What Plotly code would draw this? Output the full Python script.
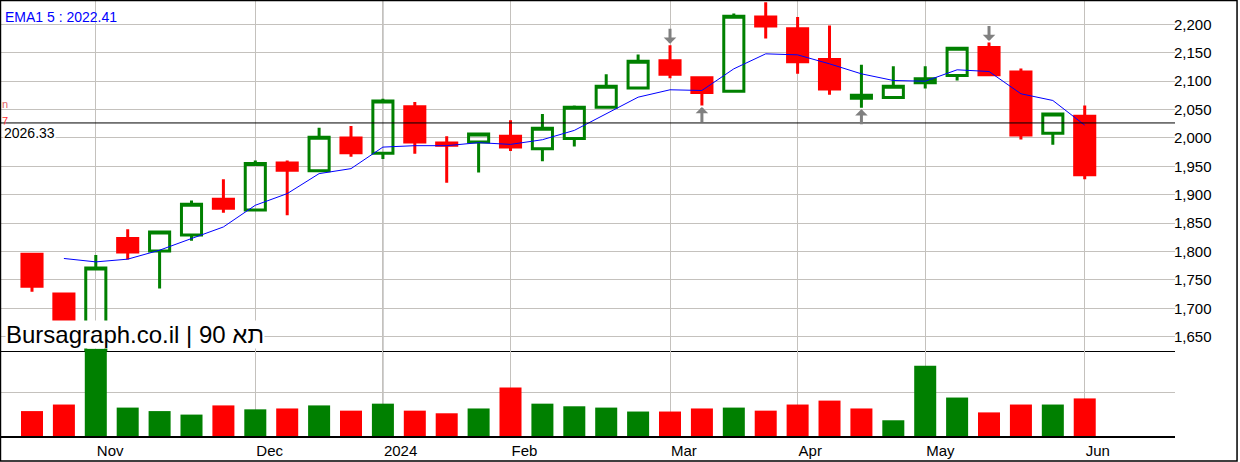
import plotly.graph_objects as go

# ---------------- data ----------------
week_end = ["2023-10-19", "2023-10-26", "2023-11-02", "2023-11-09", "2023-11-16", "2023-11-23",
            "2023-11-30", "2023-12-07", "2023-12-14", "2023-12-21", "2023-12-28", "2024-01-04",
            "2024-01-11", "2024-01-18", "2024-01-25", "2024-02-01", "2024-02-08", "2024-02-15",
            "2024-02-22", "2024-02-29", "2024-03-07", "2024-03-14", "2024-03-21", "2024-03-28",
            "2024-04-04", "2024-04-11", "2024-04-18", "2024-04-25", "2024-05-02", "2024-05-09",
            "2024-05-16", "2024-05-23", "2024-05-30", "2024-06-06"]

open_ = [1795, 1725, 1626, 1823, 1801, 1829, 1892, 1873, 1956, 1942, 2000, 1973,
         2055, 1991, 1993, 2003, 1981, 1999, 2054, 2088, 2136, 2106, 2082, 2213,
         2192, 2138, 2070, 2071, 2097, 2110, 2159, 2116, 2008, 2038]
high = [1796, 1726, 1794, 1839, 1837, 1890, 1927, 1960, 1960, 2018, 2021, 2069,
        2063, 2003, 2008, 2031, 2042, 2057, 2112, 2147, 2163, 2107, 2219, 2239,
        2213, 2198, 2129, 2126, 2126, 2159, 2168, 2122, 2042, 2057]
low = [1729, 1672, 1624, 1786, 1735, 1819, 1868, 1872, 1864, 1941, 1967, 1963,
       1972, 1921, 1939, 1977, 1959, 1985, 2053, 2087, 2105, 2057, 2081, 2175,
       2113, 2076, 2053, 2070, 2087, 2101, 2110, 1997, 1988, 1927]
close = [1739, 1679, 1771, 1799, 1834.5, 1883, 1876, 1955, 1943, 2001, 1974, 2065,
         1993, 1987, 2007, 1984, 2017, 2054, 2091, 2135, 2112, 2080, 2214, 2197,
         2134, 2086, 2075, 2091, 2104, 2158, 2111, 2005, 2042, 1935]

# EMA(5) values as drawn, starting with the 2nd week
ema5 = [1787.7, 1781.7, 1786.5, 1802.3, 1822.8, 1843.2, 1881.4, 1901.9, 1937.1, 1945.9,
        1983.8, 1986.3, 1986.3, 1991.6, 1988.6, 1996.8, 2013.2, 2042.5, 2071.7, 2084.7,
        2083.5, 2121.6, 2148.0, 2146.2, 2130.4, 2112.8, 2101.1, 2099.8, 2119.9, 2116.9,
        2077.7, 2065.9, 2022.41]

# volume (relative units, gridline at 100)
volume = [57, 72, 199, 65, 57, 49, 70, 61, 63, 70, 58, 74, 58, 52, 63, 111, 74, 68,
          65, 56, 56, 63, 65, 58, 72, 81, 63, 36, 161, 88, 54, 72, 72, 86]

ref_level = 2026.33
signal_idx = [20, 21, 26, 30]
signal_dir = ["down", "up", "up", "down"]

month_labels = ["Nov", "Dec", "2024", "Feb", "Mar", "Apr", "May", "Jun"]
price_ticks = [1650, 1700, 1750, 1800, 1850, 1900, 1950, 2000, 2050, 2100, 2150, 2200]
watermark = "Bursagraph.co.il | תא 90"

# ---------------- derived ----------------
xi = list(range(len(week_end)))
month_idx = [i for i in range(1, len(week_end)) if week_end[i][5:7] != week_end[i - 1][5:7]]
year_idx = [i for i in month_idx if week_end[i][5:7] == "01"]

GREEN = "#008000"
RED = "#ff0000"
GRID = "#c4c1bd"
FONT = "Liberation Sans, Arial, sans-serif"

vol_colors = []
for i in xi:
    ref = close[i - 1] if i > 0 else open_[i]
    vol_colors.append(GREEN if close[i] >= ref else RED)

fig = go.Figure()

fig.add_trace(go.Candlestick(
    x=xi, open=open_, high=high, low=low, close=close,
    increasing=dict(line=dict(color=GREEN, width=3), fillcolor="rgba(0,0,0,0)"),
    decreasing=dict(line=dict(color=RED, width=3), fillcolor=RED),
    whiskerwidth=0, showlegend=False, xaxis="x", yaxis="y",
))

fig.add_trace(go.Scatter(
    x=xi[1:], y=ema5, mode="lines", line=dict(color="#0000ff", width=1),
    showlegend=False, xaxis="x", yaxis="y", hoverinfo="skip",
))

fig.add_trace(go.Bar(
    x=xi, y=volume, marker=dict(color=vol_colors, line=dict(width=0)),
    width=0.69, showlegend=False, xaxis="x2", yaxis="y2",
))

x_range = [-1.003, 35.83]
vol_dom = 85 / 436

fig.update_layout(
    width=1240, height=462,
    margin=dict(l=0, r=65, t=0, b=26, autoexpand=False),
    paper_bgcolor="white", plot_bgcolor="white",
    font=dict(family=FONT, size=15, color="black"),
    boxgap=0.37, boxgroupgap=0,
    xaxis=dict(domain=[0, 1], anchor="y", range=x_range, tickvals=month_idx,
               showticklabels=False, ticks="", showgrid=True, gridcolor=GRID, gridwidth=1,
               showline=True, linecolor="black", linewidth=1, zeroline=False,
               rangeslider=dict(visible=False)),
    yaxis=dict(domain=[vol_dom, 1], anchor="x", side="right", range=[1624.8, 2242.8],
               tickvals=price_ticks, tickformat=",d", ticks="", showgrid=True,
               gridcolor=GRID, gridwidth=1, zeroline=False, ticklabelstandoff=-2,
               tickfont=dict(size=15, color="black")),
    xaxis2=dict(domain=[0, 1], anchor="y2", matches="x", range=x_range, tickvals=month_idx,
                ticktext=month_labels, ticklabelposition="outside right", ticks="",
                showgrid=True, gridcolor=GRID, gridwidth=1, showline=True,
                linecolor="black", linewidth=2, zeroline=False,
                tickfont=dict(size=15, color="black")),
    yaxis2=dict(domain=[0, vol_dom], anchor="x2", side="right", range=[0, 194.5],
                tickvals=[100], showticklabels=False, ticks="", showgrid=True,
                gridcolor=GRID, gridwidth=1, zeroline=False),
)

shapes = [
    dict(type="line", xref="paper", yref="y", x0=0, x1=1, y0=ref_level, y1=ref_level,
         line=dict(color="black", width=1)),
]
for i in year_idx:
    shapes.append(dict(type="line", xref="x", yref="paper", x0=i, x1=i, y0=0, y1=1,
                       line=dict(color="#8a8a8a", width=1), layer="below"))
shapes.append(dict(type="rect", xref="paper", yref="paper", x0=0.0004, x1=1.0528,
                   y0=-0.0573, y1=0.999, line=dict(color="black", width=1.5)))
fig.update_layout(shapes=shapes)

ann = [
    dict(text=f"EMA1 5 : {ema5[-1]:.2f}", xref="paper", yref="paper", x=0.0025, y=0.9603,
         xanchor="left", yanchor="middle", showarrow=False,
         font=dict(size=14, color="#0000ff", family=FONT)),
    dict(text="n", xref="paper", yref="paper", x=0.0, y=(436 - 104) / 436,
         xanchor="left", yanchor="middle", showarrow=False,
         font=dict(size=11, color="#e06666", family=FONT)),
    dict(text="7", xref="paper", yref="paper", x=0.0, y=(436 - 121) / 436,
         xanchor="left", yanchor="middle", showarrow=False,
         font=dict(size=11, color="#ff3030", family=FONT)),
    dict(text=f"{ref_level:.2f}", xref="paper", yref="y", x=0.0025, y=ref_level,
         xanchor="left", yanchor="top", yshift=-1, showarrow=False, bgcolor="white",
         borderpad=0, font=dict(size=14, color="black", family=FONT)),
    dict(text=watermark, xref="paper", yref="paper", x=0.004, y=(436 - 334) / 436,
         xanchor="left", yanchor="middle", showarrow=False, bgcolor="white", borderpad=0,
         font=dict(size=24, color="black", family=FONT)),
]
for i, d in zip(signal_idx, signal_dir):
    ann.append(dict(x=i, y=high[i] if d == "down" else low[i], xref="x", yref="y",
                    text="", showarrow=True, ax=0, ay=-18 if d == "down" else 18,
                    arrowhead=1, arrowsize=0.7, arrowwidth=3, arrowcolor="#808080",
                    standoff=1.5))
fig.update_layout(annotations=ann)

fig.write_html("out.html", config={"displayModeBar": False},
               post_script="document.body.style.margin='0px';"
                           "document.body.style.overflow='hidden';")
